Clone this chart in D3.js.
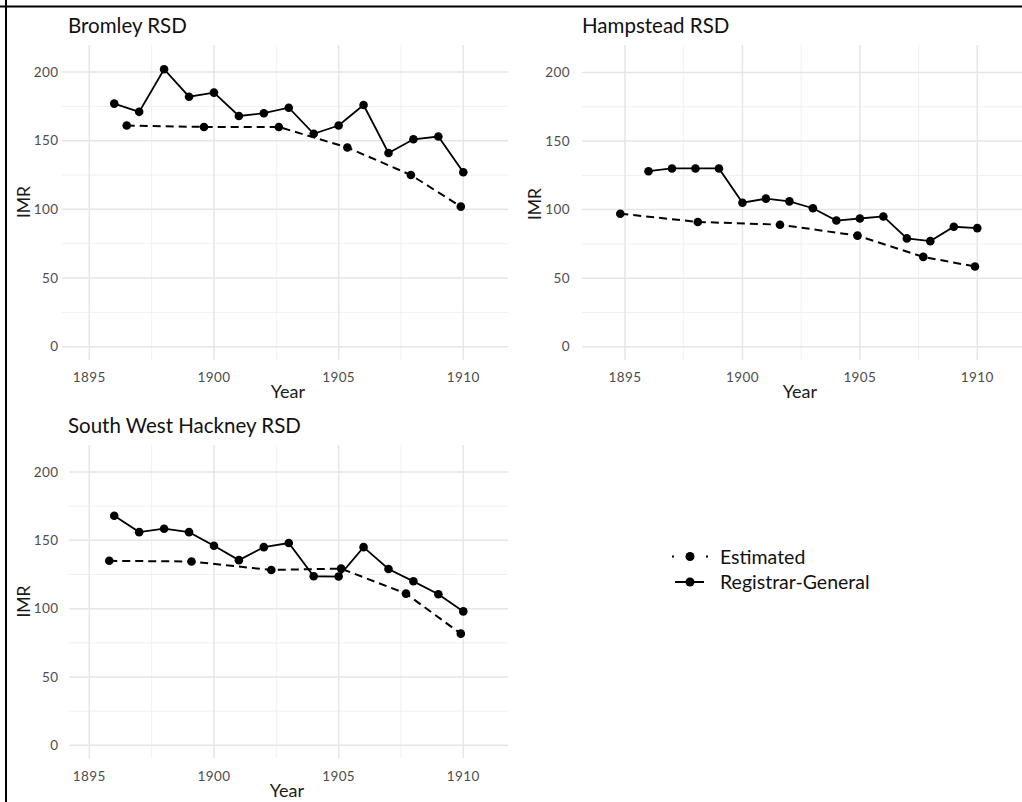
<!DOCTYPE html>
<html>
<head>
<meta charset="utf-8">
<script src="https://cdn.jsdelivr.net/npm/d3@7"></script>
<style>
  body { margin: 0; background: #fff; }
  text { font-family: Lato, "Open Sans", sans-serif; }
</style>
</head>
<body>
<div id="chart"></div>
<script>
// data
let years = [1896, 1897, 1898, 1899, 1900, 1901, 1902, 1903, 1904, 1905, 1906, 1907, 1908, 1909, 1910];

let bromleyRG = [177, 171, 202, 182, 185, 168, 170, 174, 155, 161, 176, 141, 151, 153, 127];
let bromleyEstYears = [1896.5, 1899.6, 1902.6, 1905.35, 1907.9, 1909.9];
let bromleyEst = [161, 160, 160, 145, 125, 102];

let hampsteadRG = [128, 130, 130, 130, 105, 108, 106, 101, 92, 93.5, 95, 79, 77, 87.5, 86.5];
let hampsteadEstYears = [1894.8, 1898.1, 1901.6, 1904.9, 1907.7, 1909.9];
let hampsteadEst = [97, 91, 89, 81, 65.5, 58.5];

let hackneyRG = [168, 156, 158.5, 156, 146, 135.5, 145, 148, 123.7, 123.5, 145, 129, 120, 110.5, 98];
let hackneyEstYears = [1895.8, 1899.1, 1902.3, 1905.1, 1907.7, 1909.9];
let hackneyEst = [135, 134.5, 128.3, 129.3, 111, 81.7];

let xTicks = [1895, 1900, 1905, 1910];
let xMinor = [1897.5, 1902.5, 1907.5];
let yTicks = [0, 50, 100, 150, 200];
let yMinor = [25, 75, 125, 175];

let legendLabels = ["Estimated", "Registrar-General"];

const drawChart = () => {
    let width = 1022;
    let height = 802;

    let svg = d3.select("#chart")
        .append("svg")
        .attr("width", width)
        .attr("height", height);

    svg.append("rect")
        .attr("width", width)
        .attr("height", height)
        .attr("fill", "#fff");

    // panel layout (pixels)
    let panels = [
        {
            title: "Bromley RSD", rg: bromleyRG, estX: bromleyEstYears, est: bromleyEst,
            left: 62, right: 508, top: 45, bottom: 360,
            x0: 89.3, x1: 463.3, y0: 346.7, y200: 72,
            titleX: 68, titleY: 33, labelRight: 58.5, imrX: 30, imrY: 202,
            tickY: 381.5, yearX: 288, yearY: 398
        },
        {
            title: "Hampstead RSD", rg: hampsteadRG, estX: hampsteadEstYears, est: hampsteadEst,
            left: 582, right: 1022, top: 45, bottom: 360,
            x0: 625, x1: 977.3, y0: 346.7, y200: 72.5,
            titleX: 582, titleY: 33, labelRight: 570, imrX: 541, imrY: 204,
            tickY: 381.5, yearX: 800, yearY: 398
        },
        {
            title: "South West Hackney RSD", rg: hackneyRG, estX: hackneyEstYears, est: hackneyEst,
            left: 69, right: 508, top: 445, bottom: 758,
            x0: 89.3, x1: 463.3, y0: 745.3, y200: 472,
            titleX: 68, titleY: 433, labelRight: 58.5, imrX: 30, imrY: 601.5,
            tickY: 780.5, yearX: 287, yearY: 797
        }
    ];

    panels.forEach(function (p) {
        let xScale = d3.scaleLinear().domain([1895, 1910]).range([p.x0, p.x1]);
        let yScale = d3.scaleLinear().domain([0, 200]).range([p.y0, p.y200]);

        let g = svg.append("g");

        // grid
        g.selectAll(".hminor").data(yMinor).enter().append("line")
            .attr("x1", p.left).attr("x2", p.right)
            .attr("y1", d => yScale(d)).attr("y2", d => yScale(d))
            .attr("stroke", "#f0f0f0").attr("stroke-width", 1);
        g.selectAll(".vminor").data(xMinor).enter().append("line")
            .attr("x1", d => xScale(d)).attr("x2", d => xScale(d))
            .attr("y1", p.top).attr("y2", p.bottom)
            .attr("stroke", "#f0f0f0").attr("stroke-width", 1);
        g.selectAll(".hmajor").data(yTicks).enter().append("line")
            .attr("x1", p.left).attr("x2", p.right)
            .attr("y1", d => yScale(d)).attr("y2", d => yScale(d))
            .attr("stroke", "#e6e6e6").attr("stroke-width", 1.5);
        g.selectAll(".vmajor").data(xTicks).enter().append("line")
            .attr("x1", d => xScale(d)).attr("x2", d => xScale(d))
            .attr("y1", p.top).attr("y2", p.bottom)
            .attr("stroke", "#e6e6e6").attr("stroke-width", 1.5);

        // tick labels
        g.selectAll(".ylab").data(yTicks).enter().append("text")
            .attr("x", p.labelRight)
            .attr("y", d => yScale(d))
            .attr("dy", "0.35em")
            .attr("text-anchor", "end")
            .attr("font-size", "13.5px")
            .attr("letter-spacing", "0.4px")
            .attr("fill", "#4d4d4d")
            .text(d => d);
        g.selectAll(".xlab").data(xTicks).enter().append("text")
            .attr("x", d => xScale(d))
            .attr("y", p.tickY)
            .attr("text-anchor", "middle")
            .attr("font-size", "13.5px")
            .attr("letter-spacing", "0.4px")
            .attr("fill", "#4d4d4d")
            .text(d => d);

        // titles
        g.append("text")
            .attr("x", p.titleX).attr("y", p.titleY)
            .attr("font-size", "20.5px")
            .attr("fill", "#111")
            .text(p.title);
        g.append("text")
            .attr("x", p.yearX).attr("y", p.yearY)
            .attr("text-anchor", "middle")
            .attr("font-size", "18px")
            .attr("fill", "#1a1a1a")
            .text("Year");
        g.append("text")
            .attr("transform", "translate(" + p.imrX + "," + p.imrY + ") rotate(-90)")
            .attr("text-anchor", "middle")
            .attr("font-size", "17.5px")
            .attr("fill", "#1a1a1a")
            .text("IMR");

        // lines
        let rgData = years.map((y, i) => [y, p.rg[i]]);
        let estData = p.estX.map((y, i) => [y, p.est[i]]);
        let line = d3.line().x(d => xScale(d[0])).y(d => yScale(d[1]));

        g.append("path").datum(estData)
            .attr("d", line)
            .attr("fill", "none")
            .attr("stroke", "#000")
            .attr("stroke-width", 2)
            .attr("stroke-dasharray", "8,5");
        g.append("path").datum(rgData)
            .attr("d", line)
            .attr("fill", "none")
            .attr("stroke", "#000")
            .attr("stroke-width", 1.8);

        g.selectAll(".est").data(estData).enter().append("circle")
            .attr("cx", d => xScale(d[0]))
            .attr("cy", d => yScale(d[1]))
            .attr("r", 4.3)
            .attr("fill", "#000");
        g.selectAll(".rg").data(rgData).enter().append("circle")
            .attr("cx", d => xScale(d[0]))
            .attr("cy", d => yScale(d[1]))
            .attr("r", 4.3)
            .attr("fill", "#000");
    });

    // legend
    let legendY = d3.scalePoint().domain(legendLabels).range([556.5, 582]);
    let leg = svg.append("g");
    leg.append("line")
        .attr("x1", 672).attr("x2", 708)
        .attr("y1", legendY("Estimated")).attr("y2", legendY("Estimated"))
        .attr("stroke", "#000").attr("stroke-width", 2)
        .attr("stroke-dasharray", "2,15");
    leg.append("line")
        .attr("x1", 675).attr("x2", 704)
        .attr("y1", legendY("Registrar-General")).attr("y2", legendY("Registrar-General"))
        .attr("stroke", "#000").attr("stroke-width", 2);
    leg.selectAll("circle").data(legendLabels).enter().append("circle")
        .attr("cx", 690)
        .attr("cy", d => legendY(d))
        .attr("r", 4.5)
        .attr("fill", "#000");
    leg.selectAll("text").data(legendLabels).enter().append("text")
        .attr("x", 720)
        .attr("y", d => legendY(d))
        .attr("dy", "0.36em")
        .attr("font-size", "19.5px")
        .attr("fill", "#111")
        .text(d => d);

    // frame on the top and left edge
    svg.append("line")
        .attr("x1", 0).attr("x2", width).attr("y1", 6.5).attr("y2", 6.5)
        .attr("stroke", "#000").attr("stroke-width", 2);
    svg.append("line")
        .attr("x1", 6).attr("x2", 6).attr("y1", 0).attr("y2", height)
        .attr("stroke", "#000").attr("stroke-width", 2);
};
drawChart();
</script>
</body>
</html>
